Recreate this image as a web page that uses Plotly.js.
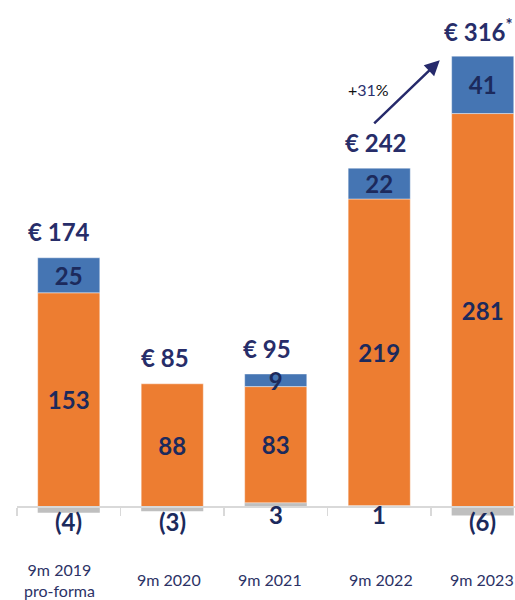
<!DOCTYPE html>
<html>
<head>
<meta charset="utf-8">
<script src="https://cdn.plot.ly/plotly-3.0.1.min.js"></script>
<style>
  html, body { margin: 0; padding: 0; background: #ffffff; }
  #chart { width: 515px; height: 600px; }
</style>
</head>
<body>
<div id="chart"></div>
<script>
// ---- data ----
const categories = ['9m 2019<br>pro-forma', '9m 2020', '9m 2021', '9m 2022', '9m 2023'];
const otherValues = [-4, -3, 3, 1, -6];        // grey segment
const coreValues  = [153, 88, 83, 219, 281];   // orange segment
const extraValues = [25, null, 9, 22, 41];     // blue segment
const totalLabels = ['174', '85', '95', '242', '316'];
const totalNotes  = ['', '', '', '', '*'];
const growthLabel = '31%';

// ---- style ----
const ORANGE = '#ED7D31', BLUE = '#4575B3', GREY = '#BFBFBF', AXIS = '#D9D9D9';
const INK = '#1C2A5C', TOTAL_INK = '#272D69', CAT_INK = '#2C3266';
const FONT = 'Lato, "Open Sans", sans-serif';

const yMin = -66.4, yMax = 362.1;

const fmt = v => (v == null ? '' : (v < 0 ? '(' + (-v) + ')' : String(v)));

const barCommon = {
  type: 'bar', x: categories, width: 0.6, hoverinfo: 'skip',
  textposition: 'inside', insidetextanchor: 'middle', constraintext: 'none', textangle: 0,
  textfont: { family: FONT, size: 24, color: INK, weight: 'bold' }
};

const traces = [
  Object.assign({}, barCommon, { y: otherValues, textposition: 'none',
    marker: { color: GREY, line: { width: 0 } } }),
  Object.assign({}, barCommon, { y: coreValues, text: coreValues.map(fmt),
    marker: { color: ORANGE, line: { width: 0.6, color: 'rgba(255,255,255,0.7)' } } }),
  Object.assign({}, barCommon, { y: extraValues, text: extraValues.map(fmt),
    marker: { color: BLUE, line: { width: 0.6, color: 'rgba(255,255,255,0.7)' } } })
];

const annotations = [];
const totalShift = [-10, -7, -9, -3, -4];
const catShift = [-9, -3, -6, 2, -1];

categories.forEach((c, i) => {
  const top = [otherValues[i], coreValues[i], extraValues[i]]
    .filter(v => v != null && v > 0).reduce((a, b) => a + b, 0);
  annotations.push({
    x: c, y: top, xref: 'x', yref: 'y', showarrow: false,
    yanchor: 'middle', yshift: 26, xshift: totalShift[i],
    text: '€ ' + totalLabels[i] + (totalNotes[i] ? '<sup>' + totalNotes[i] + '</sup>' : ''),
    font: { family: FONT, size: 24, color: TOTAL_INK, weight: 'bold' }
  });
  annotations.push({
    x: c, y: 0, xref: 'x', yref: 'y', showarrow: false,
    yanchor: 'middle', yshift: otherValues[i] < 0 ? -14 : -7,
    text: fmt(otherValues[i]),
    font: { family: FONT, size: 24, color: INK, weight: 'bold' }
  });
  annotations.push({
    x: c, y: -52, xref: 'x', yref: 'y', showarrow: false,
    yanchor: 'middle', xshift: catShift[i],
    text: c,
    font: { family: FONT, size: 16, color: CAT_INK }
  });
});

// growth arrow
annotations.push({
  x: 3.585, y: 319, xref: 'x', yref: 'y',
  ax: 2.937, ay: 273, axref: 'x', ayref: 'y',
  showarrow: true, arrowhead: 2, arrowsize: 1.2, arrowwidth: 2.5,
  arrowcolor: '#262A6B', text: ''
});
annotations.push({
  x: 2.90, y: 298, xref: 'x', yref: 'y', showarrow: false,
  text: '+<span style="color:#2B3170">' + growthLabel.replace('%', '') + '</span>%',
  font: { family: FONT, size: 16, color: '#111111' }
});

const layout = {
  width: 515, height: 600,
  margin: { l: 17, r: 0, t: 0, b: 0 },
  paper_bgcolor: '#ffffff', plot_bgcolor: '#ffffff',
  barmode: 'relative', showlegend: false, hovermode: false,
  xaxis: {
    type: 'category', range: [-0.5, 4.312],
    anchor: 'free', position: -yMin / (yMax - yMin),
    showline: true, linecolor: AXIS, linewidth: 2,
    ticks: 'outside', tickson: 'boundaries', ticklen: 8, tickwidth: 1.5, tickcolor: AXIS,
    showticklabels: false, showgrid: false, zeroline: false, fixedrange: true
  },
  yaxis: {
    range: [yMin, yMax], showgrid: false, zeroline: false, showline: false,
    showticklabels: false, ticks: '', fixedrange: true
  },
  annotations: annotations
};

Plotly.newPlot('chart', traces, layout, { displayModeBar: false, staticPlot: true });
</script>
</body>
</html>
